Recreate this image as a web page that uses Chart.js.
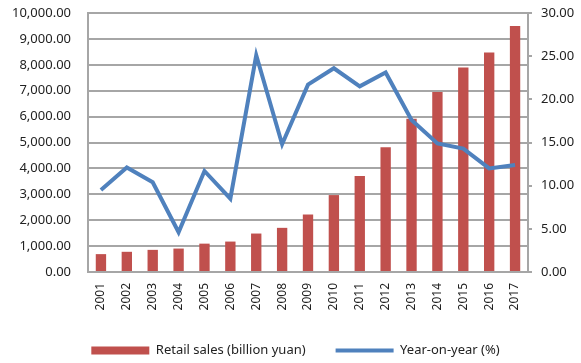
<!DOCTYPE html>
<html>
<head>
<meta charset="utf-8">
<script src="https://cdn.jsdelivr.net/npm/chart.js@4.4.1/dist/chart.umd.min.js"></script>
<style>
  html, body { margin: 0; padding: 0; background: #fff; }
  #wrap { width: 581px; height: 363px; }
</style>
</head>
<body>
<div id="wrap"><canvas id="salesChart"></canvas></div>
<script>
const years = ["2001", "2002", "2003", "2004", "2005", "2006", "2007", "2008", "2009",
  "2010", "2011", "2012", "2013", "2014", "2015", "2016", "2017"];
const retailSales = [690, 780, 855, 905, 1095, 1175, 1485, 1705, 2220,
  2970, 3710, 4820, 5915, 6950, 7895, 8475, 9495];
const yoyGrowth = [9.5, 12.1, 10.4, 4.6, 11.7, 8.5, 25.1, 14.8, 21.7,
  23.6, 21.5, 23.1, 17.6, 14.9, 14.3, 12.0, 12.4];

const BAR_COLOR = "#C0504D";
const LINE_COLOR = "#4F81BD";
const GRID_COLOR = "#A6A6A6";
const TEXT_COLOR = "#222";

Chart.defaults.font.family = "'Noto Sans', sans-serif";
Chart.defaults.font.size = 13;
Chart.defaults.color = TEXT_COLOR;

// keep the vertical axes from pushing the plot area down with tick padding
const noEdgePadding = (scale, width) => {
  scale.width = width;
  scale.paddingTop = 0;
  scale.paddingBottom = 0;
};

const ctx = document.getElementById("salesChart");

new Chart(ctx, {
  type: "bar",
  data: {
    labels: years,
    datasets: [
      {
        type: "line",
        label: "Year-on-year (%)",
        data: yoyGrowth,
        yAxisID: "y1",
        borderColor: LINE_COLOR,
        backgroundColor: LINE_COLOR,
        borderWidth: 4,
        tension: 0,
        pointRadius: 0,
        order: 0,
      },
      {
        label: "Retail sales (billion yuan)",
        data: retailSales,
        yAxisID: "y",
        backgroundColor: BAR_COLOR,
        barPercentage: 0.4,
        categoryPercentage: 1,
        order: 1,
      },
    ],
  },
  options: {
    animation: false,
    responsive: true,
    maintainAspectRatio: false,
    layout: {
      padding: { top: 13, right: 0, bottom: -4, left: 10 },
    },
    scales: {
      x: {
        afterFit: (scale) => { scale.height = 42; },
        grid: { display: false, drawTicks: false },
        border: { display: true, color: GRID_COLOR, width: 2 },
        ticks: {
          minRotation: 90,
          maxRotation: 90,
          padding: 11,
          font: { size: 12 },
        },
      },
      y: {
        position: "left",
        min: 0,
        max: 10000,
        afterFit: (scale) => noEdgePadding(scale, 78),
        ticks: {
          stepSize: 1000,
          padding: 17,
          callback: (value) => value.toLocaleString("en-US", { minimumFractionDigits: 2, maximumFractionDigits: 2 }),
        },
        grid: { color: GRID_COLOR, lineWidth: 2, drawTicks: false },
        border: { display: true, color: GRID_COLOR, width: 2 },
      },
      y1: {
        position: "right",
        min: 0,
        max: 30,
        afterFit: (scale) => noEdgePadding(scale, 53),
        ticks: {
          stepSize: 5,
          padding: 9,
          callback: (value) => value.toFixed(2),
        },
        grid: { drawOnChartArea: false, color: GRID_COLOR, lineWidth: 2, tickLength: 4 },
        border: { display: true, color: GRID_COLOR, width: 2 },
      },
    },
    plugins: {
      tooltip: { enabled: false },
      legend: {
        position: "bottom",
        reverse: true,
        labels: {
          usePointStyle: true,
          pointStyleWidth: 58,
          boxHeight: 8,
          padding: 30,
          generateLabels: (chart) => {
            const items = Chart.defaults.plugins.legend.labels.generateLabels(chart);
            items.forEach((item) => {
              const ds = chart.data.datasets[item.datasetIndex];
              if (ds.type === "line") {
                item.pointStyle = "line";
                item.lineWidth = 4;
                item.strokeStyle = LINE_COLOR;
              } else {
                item.pointStyle = "rect";
                item.lineWidth = 0;
                item.fillStyle = BAR_COLOR;
              }
            });
            return items;
          },
        },
      },
    },
  },
});
</script>
</body>
</html>
